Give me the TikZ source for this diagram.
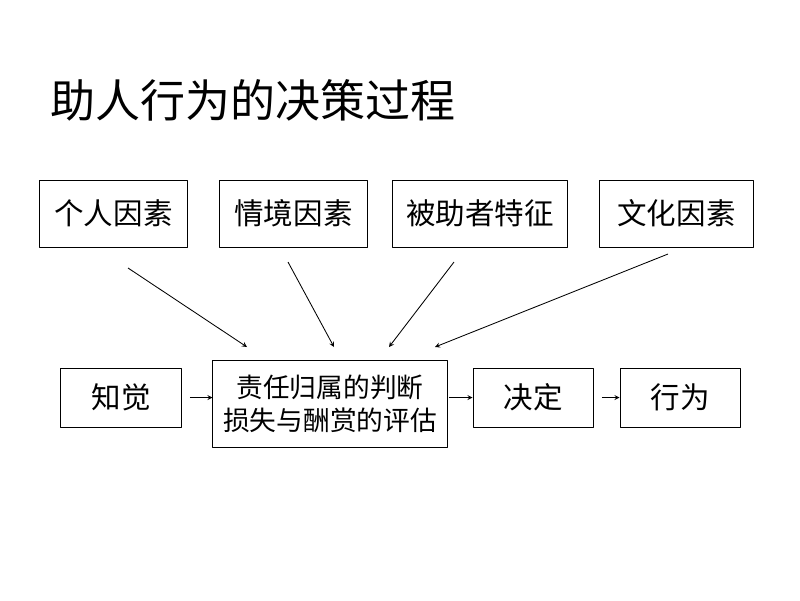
\documentclass[tikz,border=0pt]{standalone}
\usepackage{fontspec}
\newfontfamily\cjk{Noto Sans CJK SC}
\usetikzlibrary{positioning}
\begin{document}
\begin{tikzpicture}[x=0.025cm, y=-0.025cm, font=\cjk, line join=round, >=stealth,
    box/.style={draw, line width=0.7pt, inner sep=0pt, align=center, font=\cjk\fontsize{21}{26}\selectfont},
    topbox/.style={box, minimum height=1.675cm},
    rowbox/.style={box, minimum width=3cm, minimum height=1.475cm},
    arr/.style={->, line width=0.6pt}]
    \useasboundingbox (0,0) rectangle (800,600);
    % title
    \node[anchor=west, font=\cjk\fontsize{32}{36}\selectfont] (title) at (46,100) {助人行为的决策过程};
    % factors
    \node[topbox, minimum width=3.675cm] (person) at (113.5,213.5) {个人因素};
    \node[topbox, minimum width=3.675cm] (situation) at (293.5,213.5) {情境因素};
    \node[topbox, minimum width=4.35cm] (helpee) at (480,213.5) {被助者特征};
    \node[topbox, minimum width=3.825cm] (culture) at (676.5,213.5) {文化因素};
    % process row
    \node[rowbox] (perceive) at (121,397.5) {知觉};
    \node[box, minimum width=5.85cm, minimum height=2.175cm, font=\cjk\fontsize{19}{23.5}\selectfont] (judge) at (330,403.5) {责任归属的判断\\损失与酬赏的评估};
    \node[rowbox] (decide) at (533,397.5) {决定};
    \node[rowbox] (act) at (680,397.5) {行为};
    % free ends of the slanted arrows
    \coordinate (s1) at (128,268); \coordinate (e1) at (247,347);
    \coordinate (s2) at (288,262); \coordinate (e2) at (334,347);
    \coordinate (s3) at (454,262); \coordinate (e3) at (389,347);
    \coordinate (s4) at (668,254); \coordinate (e4) at (435,347);
    \foreach \i in {1,...,4} \draw[arr] (s\i) -- (e\i);
    \draw[arr, shorten <=6pt] (perceive.east) -- (perceive.east -| judge.west);
    \draw[arr, shorten <=1pt] (judge.east |- decide.west) -- (decide.west);
    \draw[arr, shorten <=6pt] (decide.east) -- (act.west);
\end{tikzpicture}
\end{document}
